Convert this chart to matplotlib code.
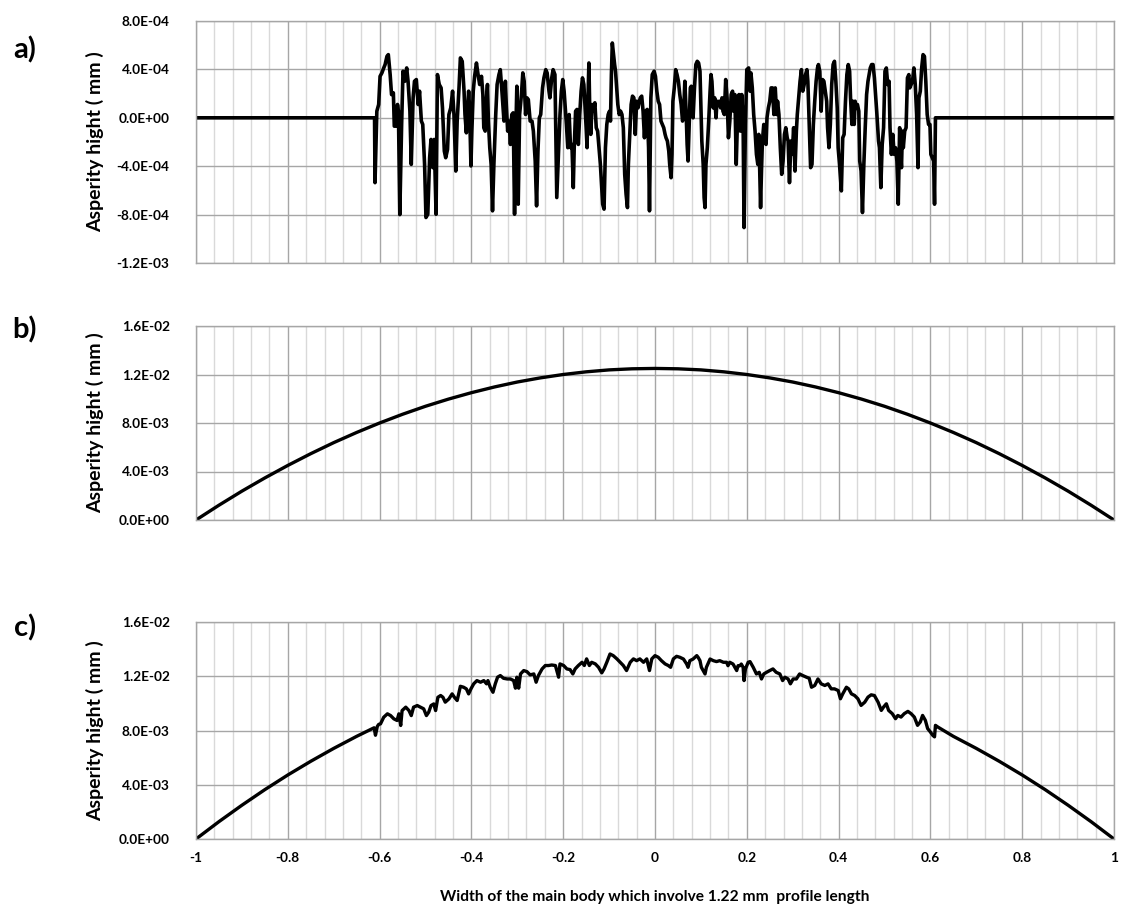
import numpy as np
import matplotlib
matplotlib.use("Agg")
import matplotlib.pyplot as plt
from matplotlib.ticker import FixedLocator, FuncFormatter, MultipleLocator

plt.rcParams['font.family'] = ['Lato', 'DejaVu Sans']

# ---------------- data ----------------
# panel a: roughness profile (heights in units of 1e-4 mm)
a_x = [-1.0, -0.611,
       -0.610, -0.606, -0.602, -0.599, -0.595, -0.591, -0.588, -0.584, -0.581, -0.577,
       -0.574, -0.570, -0.568, -0.564, -0.561, -0.559, -0.556, -0.552, -0.549, -0.545,
       -0.541, -0.538, -0.534, -0.531, -0.527, -0.524, -0.520, -0.516, -0.513, -0.509,
       -0.506, -0.502, -0.499, -0.495, -0.491, -0.488, -0.484, -0.481, -0.477, -0.474,
       -0.470, -0.466, -0.463, -0.459, -0.456, -0.452, -0.449, -0.445, -0.441, -0.438,
       -0.434, -0.431, -0.427, -0.424, -0.420,
       -0.416, -0.414, -0.411, -0.409, -0.406, -0.404, -0.401, -0.399, -0.396, -0.393,
       -0.389, -0.386, -0.382, -0.378, -0.375, -0.373, -0.370, -0.367, -0.365, -0.363,
       -0.360, -0.357, -0.354, -0.351, -0.347, -0.344, -0.340, -0.337, -0.333, -0.329,
       -0.326, -0.324, -0.321, -0.318, -0.315, -0.312, -0.309, -0.306, -0.304, -0.301,
       -0.298, -0.295, -0.291, -0.288, -0.285, -0.282, -0.279, -0.276, -0.272, -0.268,
       -0.265, -0.261, -0.258, -0.255, -0.252, -0.249, -0.245, -0.242, -0.238, -0.235,
       -0.231, -0.229, -0.225, -0.222, -0.218, -0.214,
       -0.207, -0.204, -0.201, -0.198, -0.196, -0.193, -0.190, -0.187, -0.184, -0.181,
       -0.178, -0.176, -0.173, -0.170, -0.167, -0.164, -0.161, -0.158, -0.155, -0.153,
       -0.150, -0.148, -0.146, -0.144, -0.142, -0.140, -0.137, -0.134, -0.131, -0.128,
       -0.125, -0.122, -0.119, -0.117, -0.114, -0.111, -0.108, -0.105, -0.102, -0.099,
       -0.097, -0.095, -0.093, -0.091, -0.088, -0.086, -0.083, -0.081, -0.078, -0.075,
       -0.072, -0.069, -0.066, -0.063, -0.060, -0.058, -0.055, -0.052, -0.049, -0.046,
       -0.043, -0.040, -0.037, -0.035, -0.032, -0.029, -0.026, -0.023, -0.020, -0.017,
       -0.014, -0.012, -0.009, -0.006,
       -0.002, 0.001, 0.004, 0.007, 0.010, 0.013, 0.016, 0.019, 0.022, 0.024,
       0.027, 0.030, 0.032, 0.035, 0.037, 0.039, 0.042, 0.045, 0.048, 0.051,
       0.054, 0.057, 0.060, 0.062, 0.065, 0.068, 0.070, 0.072, 0.075, 0.077,
       0.079, 0.081, 0.083, 0.086, 0.089, 0.092, 0.095, 0.098, 0.100, 0.102,
       0.105, 0.107, 0.109, 0.111, 0.114, 0.117, 0.120, 0.122, 0.124, 0.127,
       0.130, 0.133, 0.135, 0.137, 0.140, 0.143, 0.146, 0.148, 0.151, 0.154,
       0.157, 0.160, 0.163, 0.166, 0.169, 0.171, 0.174, 0.177, 0.180, 0.183,
       0.186, 0.189, 0.192, 0.194, 0.197, 0.200,
       0.204, 0.207, 0.209, 0.212, 0.215, 0.218, 0.221, 0.224, 0.226, 0.228,
       0.230, 0.232, 0.234, 0.237, 0.239, 0.242, 0.244, 0.247, 0.250, 0.253,
       0.256, 0.259, 0.262, 0.265, 0.267, 0.270, 0.273, 0.276, 0.279, 0.282,
       0.285, 0.288, 0.290, 0.293, 0.296, 0.299, 0.302, 0.305, 0.308, 0.310,
       0.313, 0.316, 0.319, 0.322, 0.325, 0.328, 0.331, 0.333, 0.336, 0.339,
       0.342, 0.345, 0.348, 0.351, 0.354, 0.356, 0.359, 0.362, 0.365, 0.368,
       0.371, 0.374, 0.376, 0.379, 0.382, 0.385, 0.388, 0.391, 0.394, 0.397,
       0.399, 0.402,
       0.406, 0.409, 0.412, 0.415, 0.418, 0.421, 0.424, 0.426, 0.429, 0.431,
       0.434, 0.436, 0.438, 0.441, 0.444, 0.446, 0.449, 0.452, 0.455, 0.458,
       0.461, 0.464, 0.467, 0.469, 0.472, 0.475, 0.478, 0.481, 0.483, 0.487,
       0.489, 0.492, 0.495, 0.498, 0.501, 0.504, 0.507, 0.510, 0.512, 0.515,
       0.518, 0.521, 0.524, 0.527, 0.530, 0.533, 0.535, 0.537, 0.539, 0.541,
       0.544, 0.547, 0.550, 0.553, 0.555, 0.558, 0.561, 0.564, 0.567, 0.570,
       0.573, 0.575, 0.578, 0.581, 0.584, 0.587, 0.590, 0.593, 0.596, 0.599,
       0.601, 0.604, 0.607, 0.609, 0.611, 1.0]
a_y_e4 = [0, 0,
          -5.36, 0.55, 1.10, 3.43, 3.71, 4.12, 4.40, 5.08, 5.22, 3.57,
          1.92, 2.06, -0.69, -0.69, 1.10, 0.55, -8.00, -0.55, 3.85, 3.02,
          4.12, 3.02, 0.55, -3.85, 1.65, 3.02, 3.16, 1.10, 2.20, -0.27,
          -0.55, -3.85, -8.24, -7.97, -3.30, -1.79, -4.12, -1.79, -7.97, 3.57,
          2.75, 2.47, 0.82, -2.75, -3.30, -2.61, 0.27, 0.82, 2.20, 0.27,
          -4.40, -0.27, 2.47, 4.95, 4.67,
          2.20, 0.27, -1.24, 0.27, 2.20, 0.82, -3.98, -1.10, 2.20, 3.43,
          4.53, 3.71, 2.75, 3.43, 1.92, -0.82, -1.10, 1.65, 2.75, -0.27,
          -2.47, -3.85, -7.69, -3.85, 0.27, 2.75, 3.57, 3.98, 1.92, -0.27,
          3.02, 1.10, -1.10, -0.27, -2.20, 0.27, 0.41, -7.97, -2.47, 2.61,
          -7.14, 0.27, 1.92, 3.71, 3.02, 0.27, 1.65, 1.51, -0.27, -0.27,
          -1.10, -3.57, -7.28, -2.75, 0.00, 0.27, 2.47, 3.30, 3.98, 3.71,
          2.20, 1.65, 3.30, 3.98, 3.57, -6.59,
          0.27, 2.20, 3.16, 2.20, 1.10, -0.55, -2.47, 0.27, -2.47, -2.20,
          -5.77, -2.47, 0.55, 0.69, -2.20, 0.27, 2.20, 3.30, 2.75, 1.37,
          -0.82, -2.47, 1.65, 4.53, 0.27, -1.37, 1.10, 0.55, 1.24, -0.82,
          -1.10, -2.47, -3.85, -5.22, -7.14, -7.55, -2.47, -0.55, 0.27, 0.55,
          -0.27, 3.57, 6.18, 5.49, 4.40, 3.85, 2.20, 1.10, 0.27, 0.55,
          0.27, -0.82, -4.67, -6.32, -7.42, -3.85, -1.37, 1.10, 1.79, 1.65,
          -1.37, 1.37, 0.82, 1.24, 1.65, 1.79, 0.55, -1.65, 0.55, 0.69,
          -2.47, -7.69, 1.65, 3.57,
          3.85, 3.43, 2.20, 1.37, 1.10, -0.27, -0.55, -0.82, -1.37, -1.65,
          -1.92, -2.75, -3.85, -4.95, -3.02, 1.37, 2.47, 3.98, 3.57, 3.02,
          1.92, 1.10, -0.27, 0.00, 3.02, 0.27, -2.20, -3.57, 0.00, 2.47,
          2.61, 1.37, 0.00, 2.47, 4.40, 4.67, 4.53, 3.85, 1.10, -1.92,
          -3.85, -6.59, -7.42, -3.85, -2.47, -0.27, 2.20, 3.57, 3.02, 0.82,
          1.65, 0.00, 1.37, 1.10, 1.37, 0.82, 1.65, 0.55, 0.27, 3.16,
          1.65, -1.65, -0.27, 1.92, 2.20, 0.55, 1.92, -3.85, 0.27, 1.92,
          -1.10, 1.92, -0.55, -9.07, -0.55, 3.98,
          4.12, 2.20, 3.71, 2.47, 0.27, -1.10, -3.02, -3.85, -1.37, -4.12,
          -7.42, -4.40, -1.92, -0.55, -1.92, -2.20, 0.00, 0.82, 1.37, 2.47,
          2.47, 0.27, 2.47, 0.27, 1.37, 0.27, -2.47, -4.67, -3.57, -1.37,
          -0.82, -1.65, -1.92, -5.36, -1.92, -3.02, -0.82, -4.40, -1.10, 0.27,
          1.65, 3.02, 3.98, 2.20, 2.75, 3.57, 3.98, 3.02, -0.55, -4.12,
          -3.85, -0.55, 1.37, 3.02, 4.12, 4.40, 3.85, 0.55, 3.16, 3.02,
          2.20, 1.37, -0.82, -2.47, -0.55, 2.75, 4.40, 4.67, 3.02, 0.82,
          -2.47, -3.85,
          -6.04, -1.65, -1.37, 1.37, 3.57, 4.40, 3.85, 1.65, -0.55, 1.37,
          -0.55, 1.37, 0.82, 1.10, 0.55, -3.57, -4.40, -7.83, -3.85, -0.82,
          1.92, 3.02, 3.71, 4.12, 4.40, 4.40, 3.30, 1.65, 0.55, -1.92,
          -2.47, -5.77, -2.20, -0.82, 3.85, 4.12, 2.75, 3.02, -0.82, -3.02,
          -1.37, -3.02, -2.47, -3.57, -7.14, -0.82, -2.75, -4.12, -1.10, -2.47,
          -1.10, -0.82, 3.30, 3.57, 2.47, 2.75, 3.02, 4.12, 2.75, 0.27,
          -4.12, 1.65, 2.20, 4.12, 5.22, 5.08, 3.02, 0.27, -0.55, -0.55,
          -3.02, -3.30, -3.57, -7.14, 0.00, 0.00]

# panel b: smooth body profile (heights in units of 1e-3 mm)
b_x = [-1.00, -0.95, -0.90, -0.85, -0.80, -0.75, -0.70, -0.65, -0.60, -0.55,
       -0.50, -0.45, -0.40, -0.35, -0.30, -0.25, -0.20, -0.15, -0.10, -0.05,
       0.00, 0.05, 0.10, 0.15, 0.20, 0.25, 0.30, 0.35, 0.40, 0.45,
       0.50, 0.55, 0.60, 0.65, 0.70, 0.75, 0.80, 0.85, 0.90, 0.95, 1.00]
b_y_e3 = [0.00, 1.22, 2.38, 3.47, 4.50, 5.47, 6.38, 7.22, 8.00, 8.72,
          9.38, 9.97, 10.50, 10.97, 11.38, 11.72, 12.00, 12.22, 12.38, 12.47,
          12.50, 12.47, 12.38, 12.22, 12.00, 11.72, 11.38, 10.97, 10.50, 9.97,
          9.38, 8.72, 8.00, 7.22, 6.38, 5.47, 4.50, 3.47, 2.38, 1.22, 0.00]

# panel c: body profile with roughness (heights in units of 1e-3 mm)
c_x = [-1.0, -0.95, -0.90, -0.85, -0.80, -0.75, -0.70, -0.65, -0.612, -0.609, -0.605, -0.602,
       -0.598, -0.591, -0.583, -0.576, -0.569, -0.562, -0.558, -0.554, -0.551, -0.543,
       -0.536, -0.531, -0.526, -0.518, -0.511, -0.504, -0.498, -0.493, -0.488, -0.482,
       -0.478, -0.473, -0.467, -0.462, -0.457, -0.449, -0.442, -0.437, -0.431, -0.424,
       -0.417, -0.411, -0.406, -0.401, -0.395, -0.388, -0.380, -0.373, -0.367, -0.364,
       -0.359, -0.353, -0.348, -0.343, -0.337, -0.330, -0.322, -0.315, -0.308, -0.304,
       -0.301, -0.297, -0.293, -0.286, -0.279, -0.272, -0.264, -0.259, -0.254, -0.246,
       -0.239, -0.232, -0.225, -0.217, -0.210, -0.207, -0.199, -0.192, -0.185, -0.179,
       -0.174, -0.167, -0.159, -0.154, -0.149, -0.143, -0.138, -0.130, -0.123, -0.116,
       -0.111, -0.105, -0.098, -0.091, -0.083, -0.076, -0.069, -0.062, -0.054, -0.047,
       -0.040, -0.033, -0.025, -0.018, -0.012, -0.007, 0.000, 0.007, 0.014, 0.022,
       0.029, 0.034, 0.040, 0.047, 0.054,
       0.062, 0.069, 0.072, 0.076, 0.083, 0.091, 0.094, 0.098, 0.101, 0.109,
       0.112, 0.120, 0.127, 0.134, 0.141, 0.149, 0.156, 0.159, 0.163, 0.170,
       0.174, 0.178, 0.181, 0.185, 0.188, 0.192, 0.194, 0.197, 0.203, 0.207,
       0.214, 0.221, 0.227, 0.232, 0.237, 0.243, 0.250, 0.257, 0.264, 0.272,
       0.278, 0.283, 0.290, 0.295, 0.301, 0.308, 0.315, 0.322, 0.330, 0.336,
       0.341, 0.348, 0.355, 0.362, 0.370, 0.377, 0.384, 0.391, 0.399, 0.404,
       0.409, 0.417, 0.422, 0.428, 0.435, 0.442, 0.449, 0.457, 0.464, 0.471,
       0.478, 0.486, 0.493, 0.498, 0.504, 0.509, 0.517, 0.524, 0.529, 0.536,
       0.543, 0.551, 0.558, 0.565, 0.572, 0.578, 0.583, 0.589, 0.594, 0.600,
       0.605, 0.609, 0.611, 0.616,
       0.65, 0.70, 0.75, 0.80, 0.85, 0.90, 0.95, 1.0]
c_y_e3 = [0.00, 1.28, 2.49, 3.64, 4.72, 5.73, 6.68, 7.57, 8.20, 7.65, 8.30, 8.45,
          8.49, 8.98, 9.23, 9.10, 8.86, 8.74, 9.23, 8.37, 9.47, 9.72,
          9.47, 9.10, 9.72, 9.84, 9.72, 9.60, 9.10, 9.35, 9.84, 9.96,
          9.47, 10.45, 10.58, 10.45, 10.09, 10.33, 10.70, 10.45, 10.21, 11.26,
          11.19, 11.07, 10.70, 11.07, 11.44, 11.68, 11.56, 11.68, 11.44, 11.68,
          11.19, 10.82, 11.44, 11.93, 12.05, 11.85, 11.80, 11.80, 11.68, 11.12,
          11.93, 11.12, 12.17, 12.42, 12.34, 12.10, 12.17, 11.56, 12.05, 12.54,
          12.79, 12.79, 12.83, 12.79, 11.93, 12.91, 12.79, 12.54, 12.49, 12.17,
          12.54, 12.79, 13.03, 12.79, 13.28, 12.79, 13.03, 12.91, 12.66, 12.25,
          12.54, 13.03, 13.64, 13.52, 13.28, 13.03, 12.79, 12.42, 13.03, 13.28,
          13.15, 13.28, 13.03, 13.28, 12.42, 13.28, 13.52, 13.40, 13.15, 12.91,
          12.79, 12.66, 13.28, 13.47, 13.40,
          13.27, 12.90, 12.66, 13.15, 13.27, 13.52, 13.39, 13.15, 12.66, 12.17,
          12.66, 13.27, 13.15, 13.08, 13.15, 13.03, 13.03, 12.78, 13.03, 12.90,
          12.66, 12.42, 12.78, 12.78, 12.90, 12.66, 11.68, 12.54, 13.03, 13.08,
          12.66, 12.17, 12.29, 11.80, 12.17, 12.29, 12.42, 12.54, 12.29, 12.17,
          11.68, 11.93, 11.80, 11.44, 11.80, 11.80, 12.17, 12.05, 11.93, 11.85,
          11.19, 11.32, 11.80, 11.44, 11.32, 11.44, 11.07, 11.07, 10.95, 10.34,
          10.70, 11.19, 11.07, 10.70, 10.58, 10.34, 9.85, 10.09, 10.46, 10.63,
          10.58, 10.09, 9.48, 9.73, 9.97, 9.48, 9.24, 8.87, 9.11, 8.99,
          9.24, 9.41, 9.24, 8.99, 8.38, 8.63, 9.11, 8.75, 8.14, 7.89,
          7.65, 7.53, 8.38, 8.26,
          7.57, 6.68, 5.73, 4.72, 3.64, 2.49, 1.28, 0.00]

a_yticks = [-1.2e-3, -8e-4, -4e-4, 0, 4e-4, 8e-4]
bc_yticks = [0, 4e-3, 8e-3, 1.2e-2, 1.6e-2]
x_ticks = [-1, -0.8, -0.6, -0.4, -0.2, 0, 0.2, 0.4, 0.6, 0.8, 1]
x_ticklabels = ['-1', '-0.8', '-0.6', '-0.4', '-0.2', '0', '0.2', '0.4', '0.6', '0.8', '1']
panel_labels = ['a)', 'b)', 'c)']
y_label = 'Asperity hight ( mm )'
x_label = 'Width of the main body which involve 1.22 mm  profile length'

assert len(a_x) == len(a_y_e4)
assert len(b_x) == len(b_y_e3)
assert len(c_x) == len(c_y_e3)

# ---------------- figure ----------------
W, H = 1121, 915
fig = plt.figure(figsize=(W / 100, H / 100), dpi=100)

def px_axes(left, top, right, bottom):
    return fig.add_axes([left / W, 1 - bottom / H, (right - left) / W, (bottom - top) / H])

axA = px_axes(196, 21, 1114, 263)
axB = px_axes(196, 326, 1114, 520)
axC = px_axes(196, 622, 1114, 839)

def sci(v, pos):
    if float(v) == 0:
        return '0.0E+00'
    return '%.1E' % v

MAJOR_GRID = '#a6a6a6'
MINOR_GRID = '#d9d9d9'
TICK_FS = 9.8

def style(ax, yticks, ylim):
    ax.set_xlim(-1, 1)
    ax.set_ylim(*ylim)
    ax.yaxis.set_major_locator(FixedLocator(yticks))
    ax.yaxis.set_major_formatter(FuncFormatter(sci))
    ax.xaxis.set_major_locator(FixedLocator(x_ticks))
    ax.xaxis.set_minor_locator(MultipleLocator(0.04))
    ax.grid(True, which='major', axis='both', color=MAJOR_GRID, linewidth=1.0)
    ax.grid(True, which='minor', axis='x', color=MINOR_GRID, linewidth=1.0)
    ax.set_axisbelow(True)
    for s in ax.spines.values():
        s.set_color(MAJOR_GRID)
        s.set_linewidth(1.0)
    ax.tick_params(which='both', length=0)
    ax.tick_params(axis='y', pad=19)
    for lab in ax.get_yticklabels():
        lab.set_fontsize(TICK_FS)
        lab.set_fontweight('bold')
    ax.set_ylabel(y_label, fontsize=14, fontweight='bold')

style(axA, a_yticks, (-1.2e-3, 8e-4))
style(axB, bc_yticks, (0, 1.6e-2))
style(axC, bc_yticks, (0, 1.6e-2))

axA.set_xticklabels([])
axB.set_xticklabels([])
axC.set_xticklabels(x_ticklabels)
axC.tick_params(axis='x', pad=9)
for lab in axC.get_xticklabels():
    lab.set_fontsize(TICK_FS)
    lab.set_fontweight('bold')

axA.plot(a_x, np.array(a_y_e4) * 1e-4, color='black', linewidth=2.6, solid_joinstyle='round')
axB.plot(b_x, np.array(b_y_e3) * 1e-3, color='black', linewidth=2.4)
axC.plot(c_x, np.array(c_y_e3) * 1e-3, color='black', linewidth=2.4, solid_joinstyle='round')

for ax in (axA, axB, axC):
    ax.yaxis.set_label_coords(-0.1005, 0.5)

for lab, ypx in zip(panel_labels, [50, 330, 628]):
    fig.text(25 / W, 1 - ypx / H, lab, fontsize=21, fontweight='bold',
             ha='center', va='center')

fig.text(655 / W, 1 - 897 / H, x_label, fontsize=11.2, fontweight='bold',
         ha='center', va='center')

fig.savefig('out.png', dpi=100)
